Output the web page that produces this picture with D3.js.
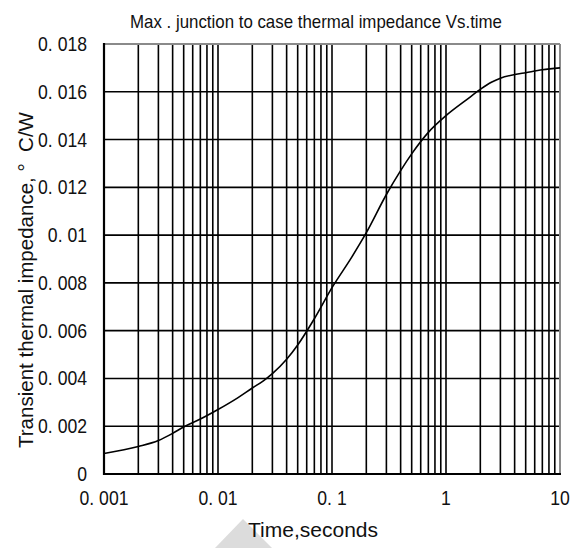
<!DOCTYPE html>
<html><head><meta charset="utf-8">
<script src="https://cdn.jsdelivr.net/npm/d3@7"></script>
<style>
html,body{margin:0;padding:0;background:#fff;}
text{font-family:"Liberation Sans",Arial,sans-serif;fill:#111;}
</style></head>
<body>
<svg id="chart" width="580" height="548"></svg>
<script>
// ---- data ----
const times = [0.001,0.002,0.003,0.004,0.005,0.007,0.01,0.015,0.02,0.025,0.03,0.04,0.05,0.07,0.1,0.15,0.2,0.3,0.4,0.5,0.7,1,1.5,2,2.5,3,4,5,7,10];
const impedance = [0.00086,0.00115,0.0014,0.0017,0.00197,0.0023,0.0027,0.0032,0.0036,0.0039,0.0042,0.0048,0.0054,0.0065,0.0078,0.0091,0.0101,0.0117,0.0127,0.0134,0.0143,0.0150,0.01565,0.0161,0.0164,0.01657,0.01672,0.0168,0.01692,0.0170];
const xTickValues = [0.001,0.01,0.1,1,10];
const xTickLabels = ["0. 001","0. 01","0. 1","1","10"];
const yTickValues = [0,0.002,0.004,0.006,0.008,0.01,0.012,0.014,0.016,0.018];
const yTickLabels = ["0","0. 002","0. 004","0. 006","0. 008","0. 01","0. 012","0. 014","0. 016","0. 018"];
const titleText = "Max . junction to case thermal impedance Vs.time";
const xTitle = "Time,seconds";
const yTitle = "Transient thermal impedance,\u00a0\u00b0\u00a0\u00a0C/W";

// ---- layout ----
const L=104,R=560,T=44,B=474;
const svg = d3.select("#chart");
const x = d3.scaleLog().domain([0.001,10]).range([L,R]);
const y = d3.scaleLinear().domain([0,0.018]).range([B,T]);

// watermark triangle
svg.append("polygon").attr("points","215,548 243,519 272,548").attr("fill","#dcdcdc");

// minor/major vertical grid
const vGrid=[];
for(let k=-3;k<=0;k++){for(let m=1;m<=9;m++){vGrid.push(m*Math.pow(10,k));}}
svg.append("g").selectAll("line").data(vGrid.slice(1)).join("line")
  .attr("x1",d=>x(d)).attr("x2",d=>x(d)).attr("y1",T).attr("y2",B)
  .attr("stroke","#000").attr("stroke-width",1.6);
svg.append("g").selectAll("line").data(yTickValues.slice(1,-1)).join("line")
  .attr("x1",L).attr("x2",R).attr("y1",d=>y(d)).attr("y2",d=>y(d))
  .attr("stroke","#000").attr("stroke-width",1.6);

// frame
svg.append("line").attr("x1",L).attr("x2",R).attr("y1",T).attr("y2",T).attr("stroke","#8a8a8a").attr("stroke-width",2);
svg.append("line").attr("x1",R).attr("x2",R).attr("y1",T).attr("y2",B).attr("stroke","#8a8a8a").attr("stroke-width",2);
svg.append("line").attr("x1",L).attr("x2",L).attr("y1",T-1).attr("y2",B+1).attr("stroke","#000").attr("stroke-width",2.2);
svg.append("line").attr("x1",L-1).attr("x2",R+1).attr("y1",B).attr("y2",B).attr("stroke","#000").attr("stroke-width",2.2);

// curve
const line = d3.line().x((d,i)=>x(times[i])).y(d=>y(d)).curve(d3.curveMonotoneX);
svg.append("path").attr("d",line(impedance)).attr("fill","none").attr("stroke","#000").attr("stroke-width",1.6);

function squeeze(sel,k){sel.each(function(){const w=this.getComputedTextLength();d3.select(this).attr("textLength",w*k).attr("lengthAdjust","spacingAndGlyphs");});}

// x tick labels
const xl = svg.append("g").selectAll("text").data(xTickValues).join("text")
  .attr("x",d=>x(d)).attr("y",505).attr("text-anchor","middle").attr("font-size",20)
  .text((d,i)=>xTickLabels[i]);
squeeze(xl,0.88);
// y tick labels
const yl = svg.append("g").selectAll("text").data(yTickValues).join("text")
  .attr("x",87).attr("y",d=>y(d)+7).attr("text-anchor","end").attr("font-size",20)
  .text((d,i)=>yTickLabels[i]);
squeeze(yl,0.88);

// titles
svg.append("text").attr("x",316).attr("y",28).attr("text-anchor","middle").attr("font-size",19)
  .attr("textLength",372).attr("lengthAdjust","spacingAndGlyphs").text(titleText);
svg.append("text").attr("x",313).attr("y",537).attr("text-anchor","middle").attr("font-size",20)
  .attr("textLength",130).attr("lengthAdjust","spacingAndGlyphs").text(xTitle);
svg.append("text").attr("transform","translate(33,280) rotate(-90)").attr("text-anchor","middle").attr("font-size",21)
  .attr("textLength",336).attr("lengthAdjust","spacingAndGlyphs").text(yTitle);
</script>
</body></html>
